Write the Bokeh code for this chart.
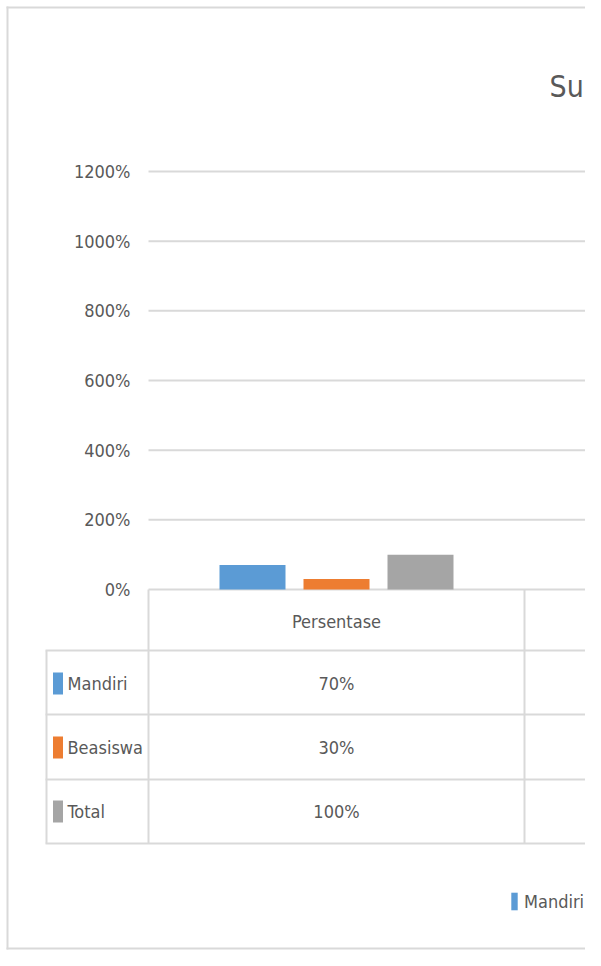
from bokeh.plotting import figure
from bokeh.models import Range1d, Legend, LegendItem
from bokeh.core.properties import value
from bokeh.embed import file_html
from bokeh.resources import INLINE

# ---- data ----
categories = ["Persentase"]
series = ["Mandiri", "Beasiswa", "Total"]
values = [0.70, 0.30, 1.00]
colors = ["#5b9bd5", "#ed7d31", "#a5a5a5"]
y_ticks = [0, 2, 4, 6, 8, 10, 12]
tick_labels = ["0%", "200%", "400%", "600%", "800%", "1000%", "1200%"]
title_text = "Su"

# ---- layout (pixels) ----
W, H = 585, 950
CAT_LEFT, CAT_W = 148, 376
ZERO_Y, UNIT_PX = 589, 34.83

FONT_NAME = "DejaVu Sans Condensed, Open Sans"
FONT = value(FONT_NAME)
TXT = "#595959"
GRID = "#d9d9d9"
FS = "18px"


def dx(px):
    return (px - CAT_LEFT) / CAT_W


def dy(py):
    return (ZERO_Y - py) / UNIT_PX


p = figure(width=W, height=H, output_backend="svg", toolbar_location=None,
           x_range=Range1d(dx(0), dx(W)), y_range=Range1d(dy(H), dy(0)),
           x_axis_location=None, y_axis_location=None, min_border=0,
           background_fill_color="white", border_fill_color="white")
p.grid.visible = False
p.outline_line_color = None

# chart border (left, top, bottom)
p.segment(x0=[dx(7), dx(6), dx(6)], y0=[dy(6), dy(7), dy(948)],
          x1=[dx(7), dx(W + 2), dx(W + 2)], y1=[dy(949), dy(7), dy(948)],
          line_color=GRID, line_width=2)

# gridlines from ticks
p.segment(x0=[0] * len(y_ticks), y0=y_ticks, x1=[dx(W + 2)] * len(y_ticks), y1=y_ticks,
          line_color=GRID, line_width=2)

# y tick labels
p.text(x=[dx(130)] * len(y_ticks), y=y_ticks, text=tick_labels, text_align="right",
       text_baseline="middle", text_font=FONT, text_font_size=FS, text_color=TXT)

# bars
offsets = [-84 / CAT_W, 0, 84 / CAT_W]
bar_w = 66 / CAT_W
bar_renderers = []
for i, (name, v, c) in enumerate(zip(series, values, colors)):
    r = p.vbar(x=[0.5 + offsets[i]], top=[v], bottom=0, width=bar_w,
               fill_color=c, line_color=None)
    bar_renderers.append(r)

# data table
row_lines = [650, 714, 779, 843]
p.segment(x0=[dx(45)] * len(row_lines), y0=[dy(v) for v in row_lines],
          x1=[dx(W + 2)] * len(row_lines), y1=[dy(v) for v in row_lines],
          line_color=GRID, line_width=2)
p.segment(x0=[dx(46), 0, 1], y0=[dy(650), 0, 0],
          x1=[dx(46), 0, 1], y1=[dy(843)] * 3, line_color=GRID, line_width=2)

# header
p.text(x=[0.5], y=[dy(621)], text=categories, text_align="center", text_baseline="middle",
       text_font=FONT, text_font_size=FS, text_color=TXT)

row_centers = [683, 747, 811]
p.rect(x=[dx(57.5)] * 3, y=[dy(c) for c in row_centers], width=10 / CAT_W,
       height=22 / UNIT_PX, fill_color=colors, line_color=None)
p.text(x=[dx(67)] * 3, y=[dy(c) for c in row_centers], text=series, text_align="left",
       text_baseline="middle", text_font=FONT, text_font_size=FS, text_color=TXT)
p.text(x=[0.5] * 3, y=[dy(c) for c in row_centers],
       text=[f"{round(v * 100)}%" for v in values], text_align="center",
       text_baseline="middle", text_font=FONT, text_font_size=FS, text_color=TXT)

# title
p.text(x=[dx(549)], y=[dy(86)], text=[title_text], text_align="left", text_baseline="middle",
       text_font=FONT, text_font_size="30px", text_color=TXT)

# legend
legend = Legend(items=[LegendItem(label=series[0], renderers=[bar_renderers[0]])],
                location=(510, H - 912), orientation="horizontal",
                border_line_color=None, background_fill_alpha=0, padding=0, margin=0,
                glyph_width=8, glyph_height=22, label_standoff=6, label_height=22,
                label_text_font=FONT_NAME, label_text_font_size=FS, label_text_color=TXT)
p.add_layout(legend)

open("out.html", "w").write(file_html(p, INLINE))
